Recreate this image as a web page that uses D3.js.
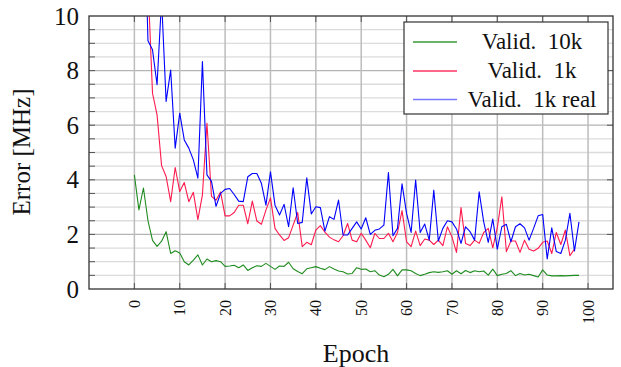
<!DOCTYPE html>
<html>
<head>
<meta charset="utf-8">
<script src="https://cdn.jsdelivr.net/npm/d3@7"></script>
<style>
  html, body { margin: 0; padding: 0; background: #fff; }
  svg text { font-family: "Liberation Serif", "Times New Roman", serif; fill: #111; }
</style>
</head>
<body>
<svg id="chart" width="621" height="367"></svg>
<script>
// Validation error per epoch (MHz)
const epochs = d3.range(0, 99);
const valid10k = [
  4.18, 2.9, 3.7, 2.5, 1.78, 1.56, 1.75, 2.1, 1.3, 1.4,
  1.32, 1.0, 0.88, 1.06, 1.25, 0.88, 1.1, 1.0, 1.04, 1.0,
  0.83, 0.84, 0.87, 0.78, 0.88, 0.68, 0.78, 0.85, 0.83, 0.94,
  0.83, 0.72, 0.84, 0.83, 0.98, 0.74, 0.64, 0.56, 0.74, 0.78,
  0.82, 0.76, 0.71, 0.82, 0.73, 0.66, 0.63, 0.55, 0.57, 0.78,
  0.72, 0.73, 0.63, 0.67, 0.51, 0.45, 0.54, 0.72, 0.48, 0.7,
  0.70, 0.67, 0.57, 0.49, 0.54, 0.6, 0.63, 0.61, 0.63, 0.67,
  0.54, 0.67, 0.56, 0.68, 0.6, 0.67, 0.63, 0.66, 0.51, 0.73,
  0.49, 0.54, 0.57, 0.67, 0.49, 0.57, 0.51, 0.54, 0.49, 0.44,
  0.70, 0.51, 0.48, 0.48, 0.49, 0.48, 0.49, 0.5, 0.5
];
const valid1k = [
  18, 15, 13, 11.2, 7.17, 6.38, 4.52, 4.12, 3.2, 4.45,
  3.57, 3.9, 3.2, 3.54, 2.54, 3.45, 6.07, 3.39, 3.25, 3.55,
  2.68, 2.68, 2.8, 3.07, 3.07, 2.39, 3.22, 2.49, 2.37, 2.89,
  3.34, 2.22, 1.98, 1.78, 1.88, 2.34, 2.8, 1.55, 1.71, 1.62,
  2.16, 2.32, 2.08, 1.9, 1.8, 1.73, 1.95, 2.4, 1.79, 1.73,
  2.04, 1.79, 1.51, 2.04, 1.85, 1.85, 2.04, 1.73, 2.07, 2.87,
  1.73, 1.55, 2.12, 1.59, 1.83, 1.79, 1.63, 1.79, 1.59, 2.28,
  1.91, 1.34, 2.98, 1.67, 1.59, 1.79, 1.67, 2.07, 2.22, 1.51,
  2.25, 3.38, 1.37, 1.76, 1.76, 1.34, 1.79, 1.46, 1.39, 1.49,
  1.71, 1.76, 1.3, 2.07, 1.63, 2.16, 1.22, 1.46
];
const valid1kReal = [
  25, 20, 15, 9.09, 8.76, 7.48, 10.6, 6.87, 8.02, 5.16,
  6.44, 5.46, 5.16, 4.73, 4.06, 8.33, 4.18, 3.94, 3.03, 3.5,
  3.65, 3.68, 3.46, 3.22, 3.2, 4.11, 4.23, 4.23, 3.87, 3.07,
  4.29, 3.07, 2.71, 3.1, 2.28, 3.71, 2.4, 2.44, 4.07, 2.75,
  3.01, 2.98, 2.12, 2.65, 2.55, 3.26, 1.98, 1.98, 2.22, 2.46,
  2.2, 2.61, 2.0, 2.15, 2.2, 2.34, 4.27, 1.95, 2.22, 3.85,
  2.77, 2.07, 3.99, 2.07, 2.38, 1.79, 3.62, 1.76, 2.22, 2.5,
  2.46, 2.2, 1.67, 2.28, 2.1, 1.79, 3.56, 2.46, 1.71, 2.56,
  1.46, 2.28, 2.37, 1.73, 2.28, 2.39, 2.24, 1.79, 2.22, 2.68,
  2.73, 1.1, 2.24, 1.37, 1.3, 1.79, 2.77, 1.39, 2.46
];
const seriesNames = ["Valid.  10k", "Valid.  1k", "Valid.  1k real"];
const xTicks = [0, 10, 20, 30, 40, 50, 60, 70, 80, 90, 100];
const yTicks = [0, 2, 4, 6, 8, 10];

const series = [
  { name: seriesNames[0], values: valid10k, color: "#1f8c1f", legendColor: "#3a9a3a" },
  { name: seriesNames[1], values: valid1k, color: "#ff1a4d", legendColor: "#ff3366" },
  { name: seriesNames[2], values: valid1kReal, color: "#0000ff", legendColor: "#7777ff" }
];

const svg = d3.select("#chart");
const plot = { left: 89, right: 613, top: 16, bottom: 289 };

const x = d3.scaleLinear().domain([-10, 105.5]).range([plot.left, plot.right]);
const y = d3.scaleLinear().domain([0, 10]).range([plot.bottom, plot.top]);

// Grid: minor horizontal every 0.5, major every 2, vertical every 10
const g = svg.append("g");
g.selectAll("line.hminor").data(d3.range(0.5, 10, 0.5).filter(v => v % 2 !== 0))
  .join("line")
  .attr("x1", plot.left).attr("x2", plot.right)
  .attr("y1", d => y(d)).attr("y2", d => y(d))
  .attr("stroke", "#dcdcdc").attr("stroke-width", 1.3);
g.selectAll("line.hmajor").data(yTicks.filter(v => v > 0 && v < 10))
  .join("line")
  .attr("x1", plot.left).attr("x2", plot.right)
  .attr("y1", d => y(d)).attr("y2", d => y(d))
  .attr("stroke", "#b4b4b4").attr("stroke-width", 1.3);
g.selectAll("line.vmajor").data(xTicks)
  .join("line")
  .attr("x1", d => x(d)).attr("x2", d => x(d))
  .attr("y1", plot.top).attr("y2", plot.bottom)
  .attr("stroke", "#bdbdbd").attr("stroke-width", 1.5);

// Tick marks
const ticks = svg.append("g").attr("stroke", "#555").attr("stroke-width", 1);
ticks.selectAll("line.l").data(d3.range(0.5, 10, 0.5))
  .join("line")
  .attr("x1", plot.left).attr("x2", plot.left + 6)
  .attr("y1", d => y(d)).attr("y2", d => y(d));
ticks.selectAll("line.r").data(yTicks.filter(v => v > 0 && v < 10))
  .join("line")
  .attr("x1", plot.right - 6).attr("x2", plot.right)
  .attr("y1", d => y(d)).attr("y2", d => y(d));
ticks.selectAll("line.b").data(xTicks)
  .join("line")
  .attr("x1", d => x(d)).attr("x2", d => x(d))
  .attr("y1", plot.bottom).attr("y2", plot.bottom - 6);
ticks.selectAll("line.t").data(xTicks)
  .join("line")
  .attr("x1", d => x(d)).attr("x2", d => x(d))
  .attr("y1", plot.top).attr("y2", plot.top + 6);

// Data lines, clipped to the plot area
svg.append("clipPath").attr("id", "clip")
  .append("rect")
  .attr("x", plot.left).attr("y", plot.top)
  .attr("width", plot.right - plot.left).attr("height", plot.bottom - plot.top);

const line = d3.line().x((d, i) => x(epochs[i])).y(d => y(d));
const lines = svg.append("g").attr("clip-path", "url(#clip)");
series.forEach(s => {
  lines.append("path")
    .datum(s.values)
    .attr("d", line)
    .attr("fill", "none")
    .attr("stroke", s.color)
    .attr("stroke-width", 1.1)
    .attr("stroke-linejoin", "round");
});

// Frame
svg.append("rect")
  .attr("x", plot.left).attr("y", plot.top)
  .attr("width", plot.right - plot.left).attr("height", plot.bottom - plot.top)
  .attr("fill", "none").attr("stroke", "#333").attr("stroke-width", 1.3);

// Y tick labels
svg.append("g").selectAll("text").data(yTicks)
  .join("text")
  .attr("x", 79).attr("y", d => y(d) + 8.5)
  .attr("text-anchor", "end")
  .style("font-size", "25px")
  .text(d => d);

// X tick labels (rotated)
svg.append("g").selectAll("text").data(xTicks)
  .join("text")
  .attr("transform", d => `translate(${x(d)},300) rotate(-90)`)
  .attr("dy", "0.35em")
  .attr("text-anchor", "end")
  .style("font-size", "16px")
  .text(d => d);

// Axis titles
svg.append("text")
  .attr("transform", "translate(30,152) rotate(-90)")
  .attr("text-anchor", "middle")
  .style("font-size", "25px")
  .text("Error [MHz]");
svg.append("text")
  .attr("x", 356).attr("y", 362)
  .attr("text-anchor", "middle")
  .style("font-size", "26px")
  .text("Epoch");

// Legend
const legend = svg.append("g");
legend.append("rect")
  .attr("x", 404).attr("y", 22).attr("width", 204).attr("height", 92)
  .attr("fill", "#fff").attr("stroke", "#333").attr("stroke-width", 1.2);
const rowY = [42, 71, 99.5];
series.forEach((s, i) => {
  legend.append("line")
    .attr("x1", 413).attr("x2", 457)
    .attr("y1", rowY[i]).attr("y2", rowY[i])
    .attr("stroke", s.legendColor).attr("stroke-width", 1.6);
  legend.append("text")
    .attr("x", 532).attr("y", rowY[i] + 7)
    .attr("text-anchor", "middle")
    .style("font-size", "23px")
    .style("white-space", "pre")
    .text(s.name);
});
</script>
</body>
</html>
